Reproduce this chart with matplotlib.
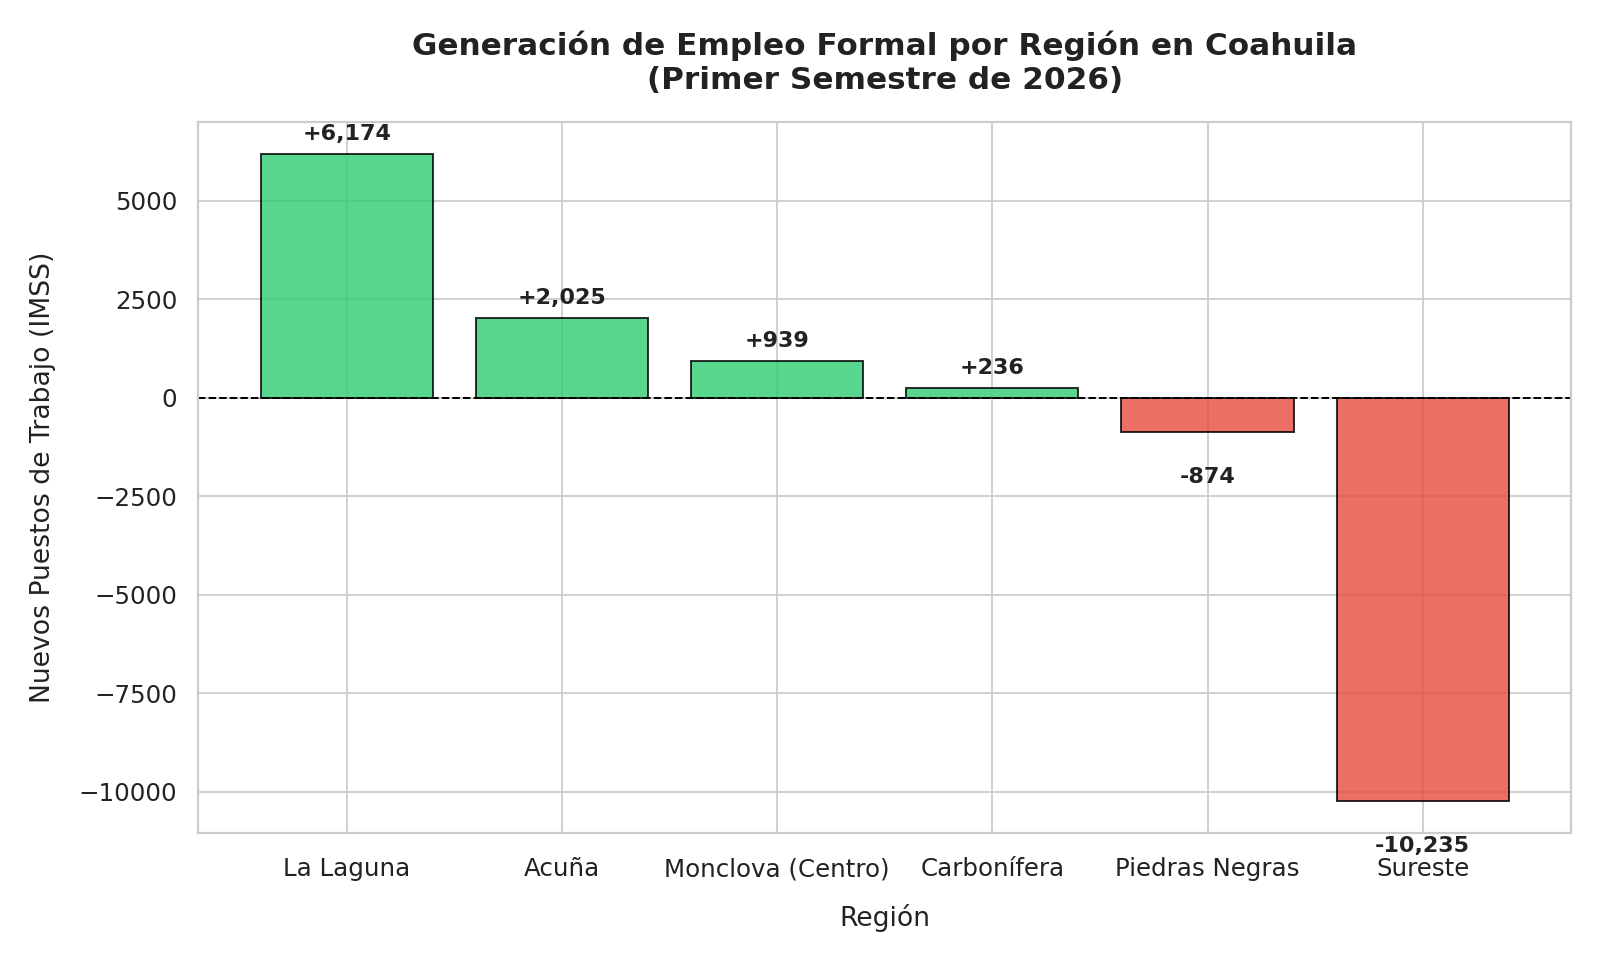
import matplotlib
matplotlib.use("Agg")
import matplotlib.pyplot as plt
import seaborn as sns

# Datos: nuevos puestos de trabajo por región (IMSS), primer semestre 2026
regiones = ["La Laguna", "Acuña", "Monclova (Centro)", "Carbonífera", "Piedras Negras", "Sureste"]
empleos = [6174, 2025, 939, 236, -874, -10235]

sns.set_style("whitegrid")

fig, ax = plt.subplots(figsize=(10, 6), dpi=160)
fig.subplots_adjust(left=0.124, right=0.982, top=0.873, bottom=0.132)

colores = ["#2ecc71" if v >= 0 else "#e74c3c" for v in empleos]
bars = ax.bar(regiones, empleos, color=colores, alpha=0.8, edgecolor="black", linewidth=0.9)

ax.axhline(0, color="black", linestyle="--", linewidth=0.9)

# Etiquetas de valor sobre/bajo cada barra
for bar, v in zip(bars, empleos):
    x = bar.get_x() + bar.get_width() / 2
    if v >= 0:
        ax.text(x, v + 250, f"+{v:,}", ha="center", va="bottom", fontsize=10, fontweight="bold", color="#222222")
    else:
        ax.text(x, v - 900, f"{v:,}", ha="center", va="top", fontsize=10, fontweight="bold", color="#222222")

ax.set_title("Generación de Empleo Formal por Región en Coahuila\n(Primer Semestre de 2026)",
             fontsize=14, fontweight="bold", pad=15, color="#222222")
ax.set_xlabel("Región", fontsize=12, labelpad=10, color="#222222")
ax.set_ylabel("Nuevos Puestos de Trabajo (IMSS)", fontsize=12, labelpad=10, color="#222222")
ax.tick_params(axis="both", labelsize=11, colors="#222222")
ax.tick_params(axis="x", pad=7.3)
ax.tick_params(axis="y", pad=6)

for s in ax.spines.values():
    s.set_color("#cccccc")
    s.set_linewidth(1.0)

plt.savefig("out.png", dpi=160)
